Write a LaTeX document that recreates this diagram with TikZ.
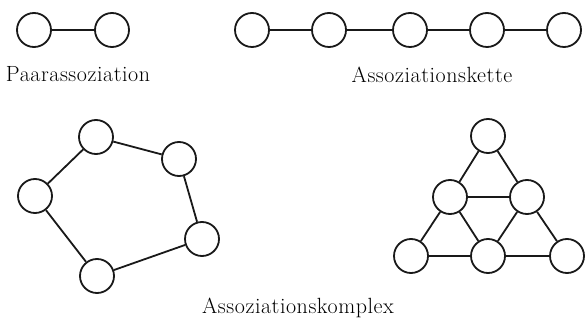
\documentclass[tikz,border=0pt]{standalone}
\usepackage{fontspec}
\setmainfont{Latin Modern Roman}[LetterSpace=2.5]
\begin{document}
\begin{tikzpicture}[x=1pt,y=-1pt,
  vert/.style={circle,draw=black!90,line width=1.8pt,minimum size=34pt,inner sep=0pt},
  link/.style={draw=black!90,line width=1.8pt},
  lab/.style={anchor=base,font=\fontsize{22}{26}\selectfont,text=black}]
\useasboundingbox (0,0) rectangle (588,320);
% Paarassoziation
\node[vert] (p1) at (34,30) {};
\node[vert] (p2) at (112,30) {};
\draw[link] (p1) -- (p2);
\node[lab] (lp) at (78,82) {Paarassoziation};
% Assoziationskette
\node[vert] (k1) at (252,30) {};
\node[vert] (k2) at (329,30) {};
\node[vert] (k3) at (410,30) {};
\node[vert] (k4) at (487,30) {};
\node[vert] (k5) at (564,30) {};
\draw[link] (k1) -- (k2) (k2) -- (k3) (k3) -- (k4) (k4) -- (k5);
\node[lab] (lk) at (432,83) {Assoziationskette};
% Polygon
\node[vert] (a1) at (96,137) {};
\node[vert] (a2) at (179,159) {};
\node[vert] (a3) at (202,239) {};
\node[vert] (a4) at (97,276) {};
\node[vert] (a5) at (35,196) {};
\draw[link] (a1) -- (a2) (a2) -- (a3) (a3) -- (a4) (a4) -- (a5) (a5) -- (a1);
% Triangle
\node[vert] (t1) at (488,136) {};
\node[vert] (t2) at (450,197) {};
\node[vert] (t3) at (527,197) {};
\node[vert] (t4) at (411,256) {};
\node[vert] (t5) at (488,256) {};
\node[vert] (t6) at (567,256) {};
\draw[link] (t1) -- (t2) (t1) -- (t3) (t2) -- (t3)
  (t2) -- (t4) (t2) -- (t5) (t3) -- (t5) (t3) -- (t6)
  (t4) -- (t5) (t5) -- (t6);
\node[lab] (lx) at (298,313) {Assoziationskomplex};
\end{tikzpicture}
\end{document}
